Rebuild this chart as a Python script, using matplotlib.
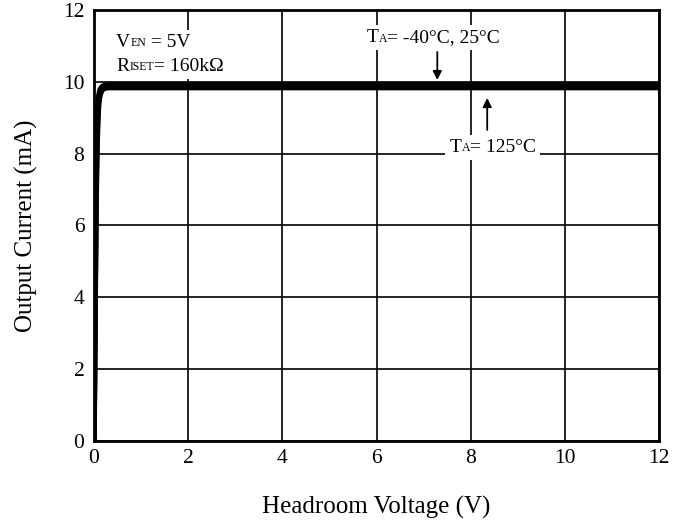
import numpy as np
import matplotlib.pyplot as plt

plt.rcParams['font.family'] = ['Liberation Serif', 'DejaVu Serif']

# headroom voltage (V) and output current (mA) for each temperature
v_head = [0, 0.02, 0.04, 0.06, 0.08, 0.1, 0.13, 0.17, 0.22, 0.3, 0.4, 0.6, 1, 2, 4, 6, 8, 10, 12]
i_m40 = [0, 3.8, 7.0, 8.6, 9.3, 9.6, 9.78, 9.86, 9.9, 9.92, 9.92, 9.92, 9.92, 9.92, 9.92, 9.92, 9.92, 9.92, 9.92]
i_25 = [0, 3.4, 6.6, 8.3, 9.1, 9.5, 9.72, 9.82, 9.86, 9.88, 9.88, 9.88, 9.88, 9.88, 9.88, 9.88, 9.88, 9.88, 9.88]
i_125 = [0, 3.0, 6.2, 8.0, 8.9, 9.4, 9.65, 9.77, 9.82, 9.84, 9.84, 9.84, 9.84, 9.84, 9.84, 9.84, 9.84, 9.84, 9.84]

x_ticks = [0, 2, 4, 6, 8, 10, 12]
y_ticks = [0, 2, 4, 6, 8, 10, 12]

fig = plt.figure(figsize=(6.88, 5.26), dpi=100)
ax = fig.add_axes([0.1366, 0.1616, 0.8214, 0.8194])

for cur in (i_m40, i_25, i_125):
    ax.plot(v_head, cur, color='black', lw=4, solid_capstyle='butt',
            solid_joinstyle='round', zorder=2)

ax.set_xlim(0, 12)
ax.set_ylim(0, 12)
ax.set_xticks(x_ticks)
ax.set_yticks(y_ticks)
ax.grid(True, color='black', lw=1.2)
ax.tick_params(length=0, labelsize=15.5)
ax.tick_params(axis='x', pad=6)
ax.tick_params(axis='y', pad=7)
for s in ax.spines.values():
    s.set_linewidth(2)

ax.set_xlabel('Headroom Voltage (V)', fontsize=18)
ax.set_ylabel('Output Current (mA)', fontsize=18)
ax.xaxis.set_label_coords(0.5, -0.128)
ax.yaxis.set_label_coords(-0.099, 0.5)


def rich(x, y, parts):
    # text pieces of different size on one baseline, on a white patch
    for layer in ('box', 'text'):
        if layer == 'box':
            kw = dict(color='white', zorder=3.5,
                      bbox=dict(fc='white', ec='none', pad=3))
        else:
            kw = dict(color='black', zorder=4)
        prev = ax.text(x, y, parts[0][0], fontsize=parts[0][1], va='baseline', **kw)
        prev_size = parts[0][1]
        for txt, size in parts[1:]:
            dy = 0.22 * (prev_size - size)
            prev = ax.annotate(txt, xy=(1, 0), xycoords=prev, xytext=(0, dy),
                               textcoords='offset points', fontsize=size,
                               va='bottom', ha='left', **kw)
            prev_size = size


rich(0.47, 10.97, [('V', 14), ('EN', 8.5), (' = 5V', 14)])
rich(0.47, 10.30, [('R', 14), ('ISET', 8.5), ('= 160k\u03a9', 14)])
rich(5.8, 11.1, [('T', 14), ('A', 8.5), ('= -40\u00b0C, 25\u00b0C', 14)])
rich(7.55, 8.05, [('T', 14), ('A', 8.5), ('= 125\u00b0C', 14)])

arrow = dict(arrowstyle='-|>', color='black', lw=1.3, mutation_scale=13,
             shrinkA=0, shrinkB=0)
ax.annotate('', xy=(7.29, 10.05), xytext=(7.29, 10.83), arrowprops=arrow)
ax.annotate('', xy=(8.35, 9.55), xytext=(8.35, 8.66), arrowprops=arrow)

fig.savefig('out.png', dpi=100)
